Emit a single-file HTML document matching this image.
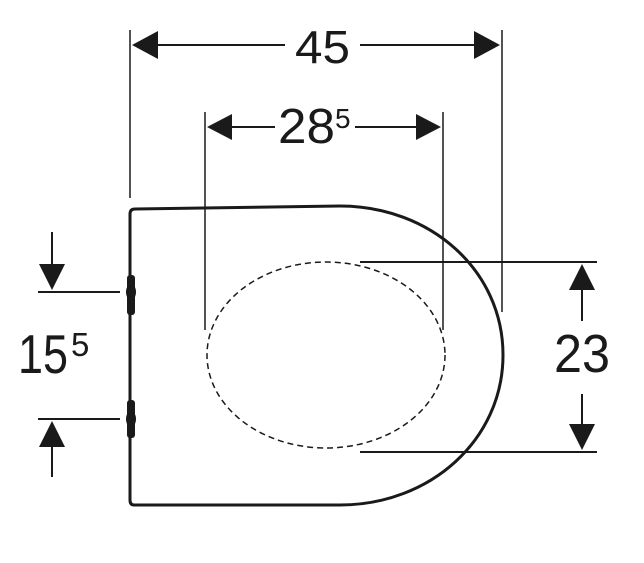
<!DOCTYPE html>
<html><head><style>html,body{margin:0;padding:0;background:#fff}</style></head>
<body>
<svg width="644" height="558" viewBox="0 0 644 558" xmlns="http://www.w3.org/2000/svg" font-family="Liberation Sans, sans-serif" fill="#1a1a1a">
<g stroke="#1a1a1a" stroke-width="2" fill="none">
<path d="M130,214 Q130,209 135,209 L340,206 C430,206 503,270 503,355 C503,440 430,505 340,505 L134,505 Q130,505 130,500 Z" stroke-width="3"/>
<ellipse cx="326" cy="355" rx="119" ry="93" stroke-width="1.5" stroke-dasharray="6,4"/>
<line x1="130" y1="30" x2="130" y2="198" stroke-width="1.5"/>
<line x1="502" y1="30" x2="502" y2="312" stroke-width="1.5"/>
<line x1="150" y1="45" x2="285" y2="45"/>
<line x1="360" y1="45" x2="480" y2="45"/>
<line x1="205" y1="112" x2="205" y2="330" stroke-width="1.5"/>
<line x1="443" y1="112" x2="443" y2="330" stroke-width="1.5"/>
<line x1="225" y1="127" x2="275" y2="127"/>
<line x1="355" y1="127" x2="422" y2="127"/>
<line x1="38" y1="292" x2="120" y2="292"/>
<line x1="38" y1="419" x2="120" y2="419"/>
<line x1="52" y1="232" x2="52" y2="268"/>
<line x1="52" y1="443" x2="52" y2="477"/>
<line x1="360" y1="262" x2="597" y2="262"/>
<line x1="360" y1="452" x2="597" y2="452"/>
<line x1="582" y1="285" x2="582" y2="321"/>
<line x1="582" y1="394" x2="582" y2="430"/>
</g>
<rect x="127" y="275" width="8" height="40" rx="3"/>
<ellipse cx="131" cy="292" rx="5" ry="8"/>
<rect x="127" y="400" width="8" height="38" rx="3"/>
<ellipse cx="131" cy="419" rx="5" ry="8"/>
<polygon points="132,45 158,31 158,59"/>
<polygon points="500,45 474,31 474,59"/>
<polygon points="207,127 232,114 232,140"/>
<polygon points="441,127 416,114 416,140"/>
<polygon points="52,290 39,264 65,264"/>
<polygon points="52,421 39,447 65,447"/>
<polygon points="582,264 569,290 595,290"/>
<polygon points="582,450 569,424 595,424"/>
<text x="295" y="63" font-size="46" textLength="55" lengthAdjust="spacingAndGlyphs">45</text>
<text x="278" y="143" font-size="49" textLength="57" lengthAdjust="spacingAndGlyphs">28</text>
<text x="335" y="128" font-size="28">5</text>
<text x="18" y="373" font-size="55" textLength="50" lengthAdjust="spacingAndGlyphs">15</text>
<text x="71" y="356" font-size="33">5</text>
<text x="554" y="372" font-size="54" textLength="56" lengthAdjust="spacingAndGlyphs">23</text>
</svg>
</body></html>
